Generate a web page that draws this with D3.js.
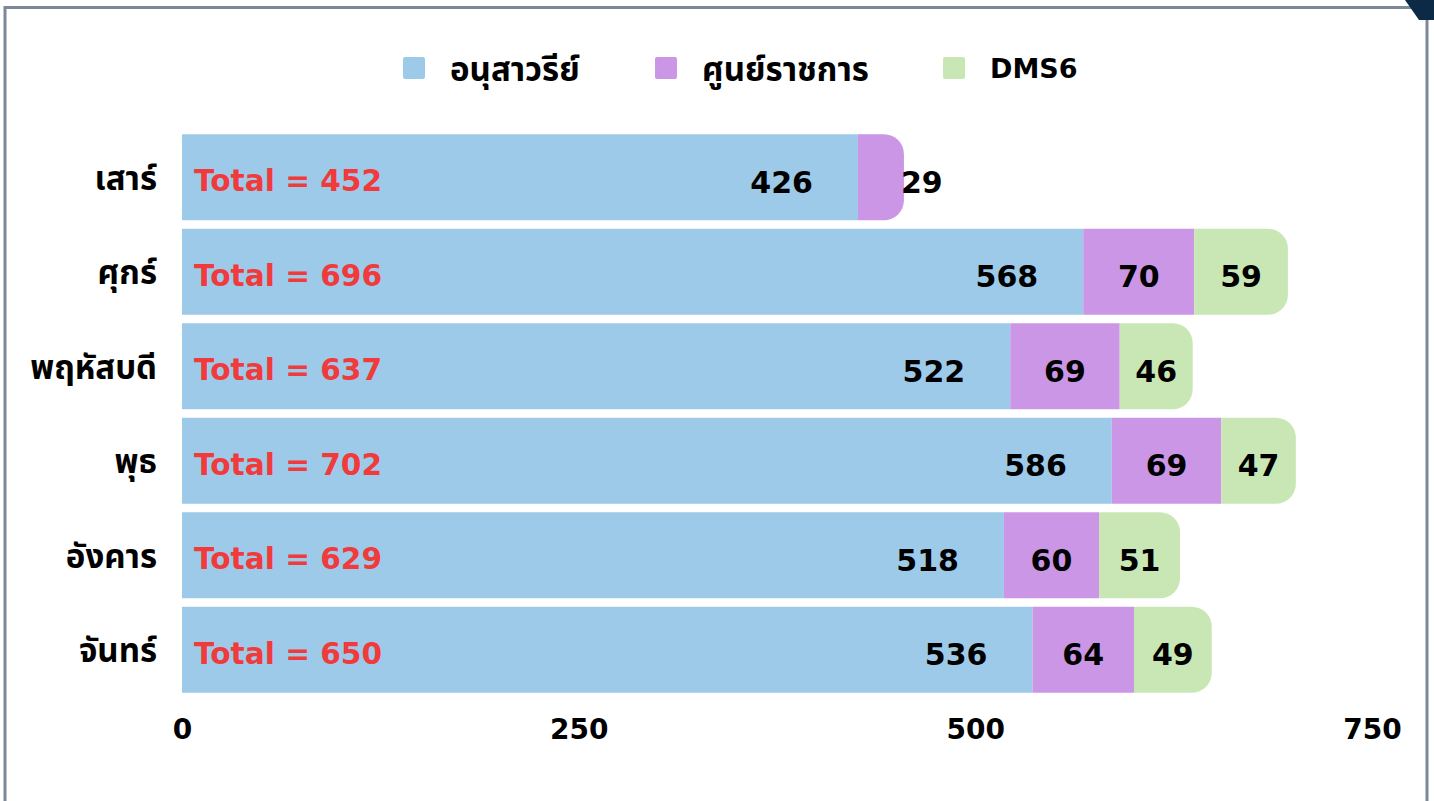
<!DOCTYPE html>
<html>
<head>
<meta charset="utf-8">
<script src="https://cdn.jsdelivr.net/npm/d3@7"></script>
<style>
  html, body { margin: 0; padding: 0; background: #fff; }
  svg { display: block; font-family: "DejaVu Sans", "Noto Sans", sans-serif; }
  .thai { font-family: "Noto Sans", "Noto Sans Thai", sans-serif; }
</style>
</head>
<body>
<svg id="chart" width="1434" height="801"></svg>
<script>
const days = ["เสาร์", "ศุกร์", "พฤหัสบดี", "พุธ", "อังคาร", "จันทร์"];
const series_names = ["อนุสาวรีย์", "ศูนย์ราชการ", "DMS6"];
const anusawari = [426, 568, 522, 586, 518, 536];
const soonrachakarn = [29, 70, 69, 69, 60, 64];
const dms6 = [null, 59, 46, 47, 51, 49];
const totals = [452, 696, 637, 702, 629, 650];
const x_ticks = [0, 250, 500, 750];

const width = 1434,
  height = 801;

const colors = ["#9ecae9", "#cb96e6", "#c9e7b5"];
const color = d3.scaleOrdinal().domain(series_names).range(colors);

const svg = d3.select("#chart");

// frame
svg.append("path")
  .attr("d", "M5,801 V7.5 H1427 V801")
  .attr("fill", "none")
  .attr("stroke", "#7d8898")
  .attr("stroke-width", 3);
svg.append("path")
  .attr("d", "M1405,0 H1434 V20 H1419 Z")
  .attr("fill", "#0c2a46");

const rows = days.map((d, i) => ({
  day: d,
  [series_names[0]]: anusawari[i],
  [series_names[1]]: soonrachakarn[i],
  [series_names[2]]: dms6[i] || 0,
  total: totals[i],
}));

const x = d3.scaleLinear().domain([0, 750]).range([182, 1372]);
const y = d3
  .scaleBand()
  .domain(days)
  .range([130, 697])
  .paddingInner(0.09)
  .paddingOuter(0.045);

const stacked = d3.stack().keys(series_names)(rows);

// last non-empty segment per row gets the rounded end
const lastKey = rows.map((r) => {
  let k = null;
  series_names.forEach((s) => {
    if (r[s] > 0) k = s;
  });
  return k;
});

function segPath(x0, x1, y0, h, rounded) {
  const r = rounded ? Math.min(20, (x1 - x0) / 1.3, h / 2) : 0;
  if (!r) return `M${x0},${y0}H${x1}V${y0 + h}H${x0}Z`;
  return `M${x0},${y0}H${x1 - r}A${r},${r} 0 0 1 ${x1},${y0 + r}V${y0 + h - r}A${r},${r} 0 0 1 ${x1 - r},${y0 + h}H${x0}Z`;
}

const layers = svg
  .selectAll(".layer")
  .data(stacked)
  .join("g")
  .attr("class", "layer")
  .attr("fill", (d) => color(d.key));

layers
  .selectAll("path")
  .data((d) => d.map((v, i) => ({ key: d.key, v, i })))
  .join("path")
  .filter((d) => d.v[1] - d.v[0] > 0)
  .attr("d", (d) =>
    segPath(
      x(d.v[0]),
      x(d.v[1]),
      y(days[d.i]),
      y.bandwidth(),
      lastKey[d.i] == d.key
    )
  );

// value labels
stacked.forEach((layer, li) => {
  svg
    .append("g")
    .selectAll("text")
    .data(layer.map((v, i) => ({ v, i })).filter((d) => d.v[1] - d.v[0] > 0))
    .join("text")
    .attr("font-size", 30)
    .attr("font-weight", "bold")
    .attr("fill", "#000")
    .attr("dominant-baseline", "central")
    .attr("y", (d) => y(days[d.i]) + y.bandwidth() / 2 + 5)
    .attr("x", (d) => {
      const x0 = x(d.v[0]),
        x1 = x(d.v[1]);
      if (li == 0) return x1 - 45;
      if (x1 - x0 < 60) return x1 - 3;
      return (x0 + x1) / 2;
    })
    .attr("text-anchor", (d) => {
      const w = x(d.v[1]) - x(d.v[0]);
      if (li == 0) return "end";
      if (w < 60) return "start";
      return "middle";
    })
    .text((d) => d.v.data[layer.key]);
});

// totals
svg
  .append("g")
  .selectAll("text")
  .data(rows)
  .join("text")
  .attr("x", x(0) + 12)
  .attr("y", (d) => y(d.day) + y.bandwidth() / 2 + 4)
  .attr("dominant-baseline", "central")
  .attr("font-size", 29.6)
  .attr("font-weight", "bold")
  .attr("fill", "#f03a3c")
  .text((d) => "Total = " + d.total);

// day labels
svg
  .append("g")
  .attr("class", "thai")
  .selectAll("text")
  .data(days)
  .join("text")
  .attr("x", 157)
  .attr("y", (d) => y(d) + y.bandwidth() / 2)
  .attr("text-anchor", "end")
  .attr("dominant-baseline", "central")
  .attr("font-size", 33)
  .attr("font-weight", "bold")
  .attr("fill", "#000")
  .text((d) => d);

// x axis
const xAxis = svg
  .append("g")
  .attr("transform", "translate(0,711)")
  .call(d3.axisBottom(x).tickValues(x_ticks).tickSize(0).tickPadding(8));
xAxis.select(".domain").remove();
xAxis
  .selectAll("text")
  .attr("font-size", 28)
  .attr("font-weight", "bold")
  .attr("font-family", "'DejaVu Sans', sans-serif")
  .attr("fill", "#000");

// legend
const legendX = [403, 655, 943];
const legend = svg
  .selectAll(".legend")
  .data(series_names)
  .join("g")
  .attr("class", "legend thai")
  .attr("transform", (d, i) => `translate(${legendX[i]},68)`);
legend
  .append("rect")
  .attr("x", 0)
  .attr("y", -11)
  .attr("width", 22)
  .attr("height", 22)
  .attr("rx", 2)
  .attr("fill", (d) => color(d));
legend
  .append("text")
  .attr("x", 47)
  .attr("y", 0)
  .attr("dominant-baseline", "central")
  .attr("font-size", (d, i) => (i == 2 ? 27 : 33))
  .attr("font-family", (d, i) => (i == 2 ? "'DejaVu Sans', sans-serif" : null))
  .attr("font-weight", "bold")
  .attr("fill", "#000")
  .text((d) => d);
</script>
</body>
</html>
